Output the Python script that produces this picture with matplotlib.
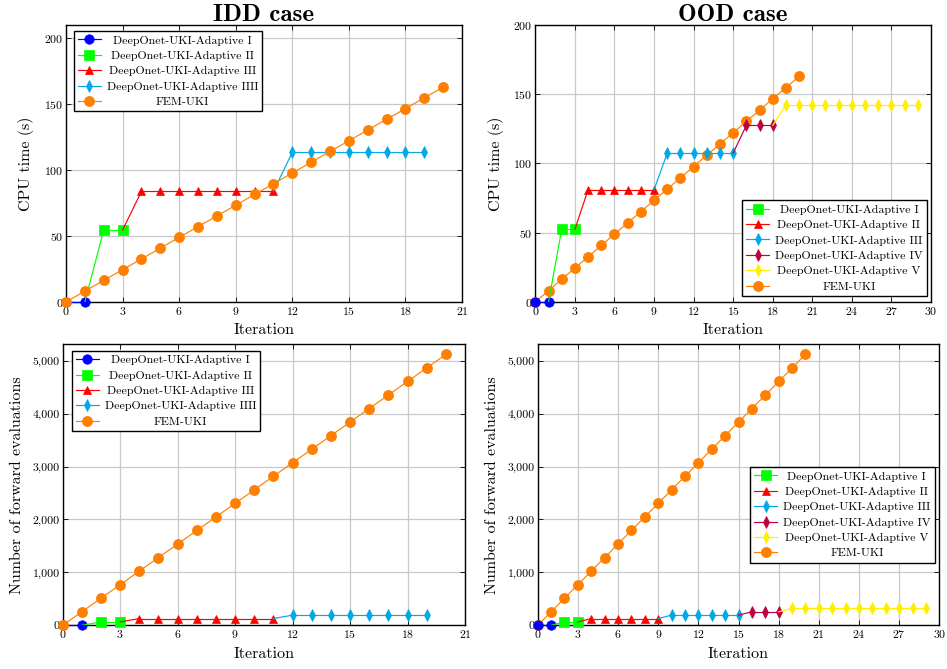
import numpy as np
import matplotlib
matplotlib.use('Agg')
import matplotlib.pyplot as plt
from matplotlib.offsetbox import TextArea
from matplotlib.transforms import Bbox
from matplotlib.ticker import FuncFormatter

plt.rcParams['font.family'] = 'cmr10'
plt.rcParams['axes.formatter.use_mathtext'] = True
plt.rcParams['mathtext.fontset'] = 'cm'

# ---- data ----
fem_iter = list(range(0, 21))
fem_cpu = [0, 8.2, 16.4, 24.5, 32.6, 40.8, 49.0, 57.1, 65.2, 73.4, 81.5,
           89.6, 97.8, 105.9, 114.1, 122.2, 130.4, 138.5, 146.6, 154.8, 162.9]
fem_evals = [0, 256, 512, 768, 1024, 1280, 1536, 1792, 2048, 2304, 2560,
             2816, 3072, 3328, 3584, 3840, 4096, 4352, 4608, 4864, 5120]

# IDD case stages
idd_x = [[0, 1], [2, 3], [4, 5, 6, 7, 8, 9, 10, 11],
         [12, 13, 14, 15, 16, 17, 18, 19]]
idd_cpu = [[0, 0], [54.5, 54.5], [83.8] * 8, [113.5] * 8]
idd_evals = [[0, 0], [64, 64], [128] * 8, [192] * 8]
idd_labels = ['DeepOnet-UKI-Adaptive I', 'DeepOnet-UKI-Adaptive II',
              'DeepOnet-UKI-Adaptive III', 'DeepOnet-UKI-Adaptive IIII']

# OOD case stages (first stage is not in the legend)
ood_x = [[0, 1], [2, 3], [4, 5, 6, 7, 8, 9], [10, 11, 12, 13, 14, 15],
         [16, 17, 18], list(range(19, 30))]
ood_cpu = [[0, 0], [52.5, 52.5], [81] * 6, [107.5] * 6, [127.5] * 3, [142.3] * 11]
ood_evals = [[0, 0], [64, 64], [128] * 6, [192] * 6, [256] * 3, [320] * 11]
ood_labels = [None, 'DeepOnet-UKI-Adaptive I', 'DeepOnet-UKI-Adaptive II',
              'DeepOnet-UKI-Adaptive III', 'DeepOnet-UKI-Adaptive IV',
              'DeepOnet-UKI-Adaptive V']

blue = '#0000ff'
green = '#00ff00'
red = '#ff0000'
cyan = '#00a8e8'
crimson = '#bf0040'
yellow = '#ffee00'
orange = '#ff8000'
stage_styles = [(blue, 'o', 6.8), (green, 's', 6.6), (red, '^', 6.4),
                (cyan, 'd', 5.8), (crimson, 'd', 5.8), (yellow, 'd', 5.8)]
LW = 0.85


def draw_stages(ax, xs, ys, labels, z):
    prev = None
    for i, (sx, sy) in enumerate(zip(xs, ys)):
        col, mk, ms = stage_styles[i]
        if prev is not None:
            ax.plot([prev[0], sx[0]], [prev[1], sy[0]], color=col, lw=LW, zorder=z)
        ax.plot(sx, sy, color=col, lw=LW, marker=mk, ms=ms, mec=col, mew=0.5,
                label=labels[i], zorder=z, clip_on=False)
        prev = (sx[-1], sy[-1])


def center_legend(leg):
    r = leg.figure.canvas.get_renderer()
    areas = leg._legend_handle_box.findobj(TextArea)
    W = max(a.get_bbox(r).width for a in areas)
    for a in areas:
        a._text.set_ha('center')
        orig = a.get_bbox

        def patched(renderer, orig=orig):
            b = orig(renderer)
            return Bbox.from_bounds(-W / 2, b.y0, W, b.height)
        a.get_bbox = patched


def style_axes(ax, xmax, ymax, xstep, ystep):
    ax.set_xlim(0, xmax)
    ax.set_ylim(0, ymax)
    ax.set_xticks(np.arange(0, xmax + 0.1, xstep))
    ax.set_yticks(np.arange(0, ymax + 0.1, ystep))
    ax.grid(True, color='#c8c8c8', lw=0.9)
    ax.set_axisbelow(True)
    ax.tick_params(direction='in', top=True, right=True, labelsize=8.5,
                   length=3.5, width=0.6, pad=2)
    for s in ax.spines.values():
        s.set_linewidth(1.0)
        s.set_zorder(1.5)
    ax.set_xlabel('Iteration', fontsize=11.5, labelpad=5)


fig = plt.figure(figsize=(9.47, 6.69), dpi=100)
ax1 = fig.add_axes([0.0697, 0.5486, 0.4182, 0.4141])
ax2 = fig.add_axes([0.5653, 0.5486, 0.4178, 0.4141])
ax3 = fig.add_axes([0.0662, 0.0653, 0.4248, 0.4200])
ax4 = fig.add_axes([0.5678, 0.0653, 0.4241, 0.4200])

comma = FuncFormatter(lambda v, p: f'{v:,.0f}')

# IDD CPU time
draw_stages(ax1, idd_x, idd_cpu, idd_labels, 2)
ax1.plot(fem_iter, fem_cpu, color=orange, lw=LW, marker='o', ms=6.8, label='FEM-UKI',
         zorder=3, clip_on=False)
style_axes(ax1, 21, 210, 3, 50)
ax1.set_ylabel('CPU time (s)', fontsize=11.5, labelpad=7)
ax1.set_title('IDD case', fontfamily='cmb10', fontsize=18, pad=3)

# OOD CPU time
ax2.plot(fem_iter, fem_cpu, color=orange, lw=LW, marker='o', ms=6.8, label='FEM-UKI',
         zorder=2, clip_on=False)
draw_stages(ax2, ood_x, ood_cpu, ood_labels, 3)
style_axes(ax2, 30, 200, 3, 50)
ax2.set_ylabel('CPU time (s)', fontsize=11.5, labelpad=7)
ax2.set_title('OOD case', fontfamily='cmb10', fontsize=18, pad=3)

# IDD forward evaluations
draw_stages(ax3, idd_x, idd_evals, idd_labels, 2)
ax3.plot(fem_iter, fem_evals, color=orange, lw=LW, marker='o', ms=6.8, label='FEM-UKI',
         zorder=3, clip_on=False)
style_axes(ax3, 21, 5310, 3, 1000)
ax3.yaxis.set_major_formatter(comma)
ax3.set_ylabel('Number of forward evaluations', fontsize=11.5, labelpad=6)

# OOD forward evaluations
ax4.plot(fem_iter, fem_evals, color=orange, lw=LW, marker='o', ms=6.8, label='FEM-UKI',
         zorder=2, clip_on=False)
draw_stages(ax4, ood_x, ood_evals, ood_labels, 3)
style_axes(ax4, 30, 5310, 3, 1000)
ax4.yaxis.set_major_formatter(comma)
ax4.set_ylabel('Number of forward evaluations', fontsize=11.5, labelpad=6)


def make_legend(ax, order, loc, anchor):
    h, l = ax.get_legend_handles_labels()
    h = [h[i] for i in order]
    l = [l[i] for i in order]
    leg = ax.legend(h, l, loc=loc, bbox_to_anchor=anchor, fontsize=8.6,
                    frameon=True, fancybox=False, edgecolor='black',
                    framealpha=1, borderaxespad=0, handlelength=1.9,
                    handletextpad=0.5, labelspacing=0.42, borderpad=0.35)
    leg.get_frame().set_linewidth(1.0)
    leg.set_zorder(5)
    center_legend(leg)
    return leg


make_legend(ax1, [0, 1, 2, 3, 4], 'upper left', (0.02, 0.978))
make_legend(ax2, [1, 2, 3, 4, 5, 0], 'lower right', (0.99, 0.022))
make_legend(ax3, [0, 1, 2, 3, 4], 'upper left', (0.023, 0.977))
make_legend(ax4, [1, 2, 3, 4, 5, 0], 'lower right', (0.989, 0.223))

fig.savefig('out.png', dpi=100)
